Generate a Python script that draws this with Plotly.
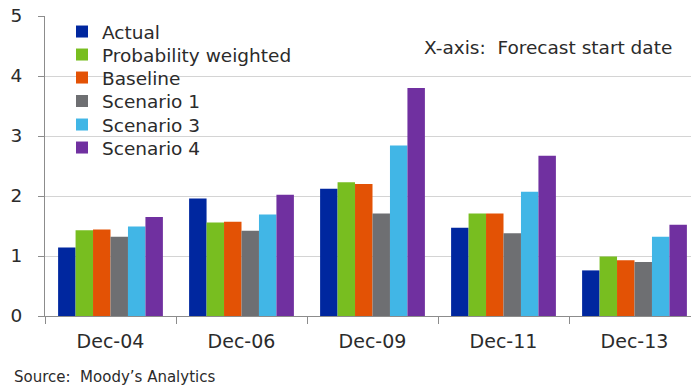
import plotly.graph_objects as go

# Forecast start dates (categories)
categories = ["Dec-04", "Dec-06", "Dec-09", "Dec-11", "Dec-13"]

# Series values per forecast start date
actual = [1.14, 1.96, 2.12, 1.47, 0.76]
prob_weighted = [1.43, 1.56, 2.23, 1.71, 0.99]
baseline = [1.44, 1.57, 2.20, 1.71, 0.93]
scenario1 = [1.32, 1.42, 1.71, 1.38, 0.90]
scenario3 = [1.49, 1.69, 2.84, 2.07, 1.32]
scenario4 = [1.65, 2.02, 3.80, 2.67, 1.52]

series_names = ["Actual", "Probability weighted", "Baseline",
                "Scenario 1", "Scenario 3", "Scenario 4"]
series_values = [actual, prob_weighted, baseline, scenario1, scenario3, scenario4]
series_colors = ["#00279F", "#78BE20", "#E35205", "#6E6F72", "#41B6E6", "#7030A0"]

y_ticks = [0, 1, 2, 3, 4, 5]

FONT = "DejaVu Sans, Liberation Sans, Arial, sans-serif"
TEXT = "#2B2B2B"
W, H = 691, 387
ML, MR, MT, MB = 45, 0, 16, 71
plot_w = W - ML - MR
plot_h = H - MT - MB


def px_x(x):
    return (x - ML) / plot_w


def px_y(y):
    return (H - MB - y) / plot_h


fig = go.Figure()

# One compact legend box per series so rows sit close together
legend_rows = [32, 55, 78, 101.5, 125, 148]
legend_boxes = {}
for i, (name, vals, col) in enumerate(zip(series_names, series_values, series_colors)):
    key = "legend" if i == 0 else f"legend{i + 1}"
    fig.add_trace(go.Bar(
        x=categories, y=vals, name=name, legend=key,
        marker=dict(color=col, line=dict(width=0)),
    ))
    legend_boxes[key] = dict(
        x=px_x(62), xanchor="left",
        y=px_y(legend_rows[i]), yanchor="middle",
        bgcolor="rgba(0,0,0,0)", borderwidth=0,
        font=dict(family=FONT, size=18.5, color=TEXT),
        itemwidth=30,
    )

cat_px = 131.0
x_right = -0.5 + plot_w / cat_px

fig.update_layout(
    width=W, height=H,
    margin=dict(l=ML, r=MR, t=MT, b=MB, pad=0),
    paper_bgcolor="white", plot_bgcolor="white",
    barmode="group", bargap=0.2, bargroupgap=0,
    font=dict(family=FONT, color=TEXT),
    showlegend=True,
    xaxis=dict(
        range=[-0.5, x_right], type="category",
        showline=True, linecolor="#8C8C8C", linewidth=1,
        ticks="outside", ticklen=7, tickcolor="#8C8C8C",
        tickson="boundaries", ticklabelstandoff=8,
        tickfont=dict(family=FONT, size=19, color=TEXT),
        showgrid=False, zeroline=False, fixedrange=True,
    ),
    yaxis=dict(
        range=[0, 5], tickvals=y_ticks,
        showline=True, linecolor="#8C8C8C", linewidth=1,
        ticks="outside", ticklen=6, tickcolor="#8C8C8C",
        tickfont=dict(family=FONT, size=18.5, color=TEXT),
        showgrid=True, gridcolor="#D4D4D4", gridwidth=1,
        zeroline=False, fixedrange=True, ticklabelstandoff=12,
    ),
    annotations=[
        dict(text="X-axis:  Forecast start date", x=px_x(674), y=px_y(47),
             xref="paper", yref="paper", showarrow=False,
             font=dict(family=FONT, size=18.5, color=TEXT),
             xanchor="right", yanchor="middle"),
        dict(text="Source:  Moody\u2019s Analytics", x=px_x(12), y=px_y(377),
             xref="paper", yref="paper", showarrow=False,
             font=dict(family=FONT, size=15, color=TEXT),
             xanchor="left", yanchor="middle"),
    ],
)
fig.update_layout(**legend_boxes)

fig.write_html("out.html")
